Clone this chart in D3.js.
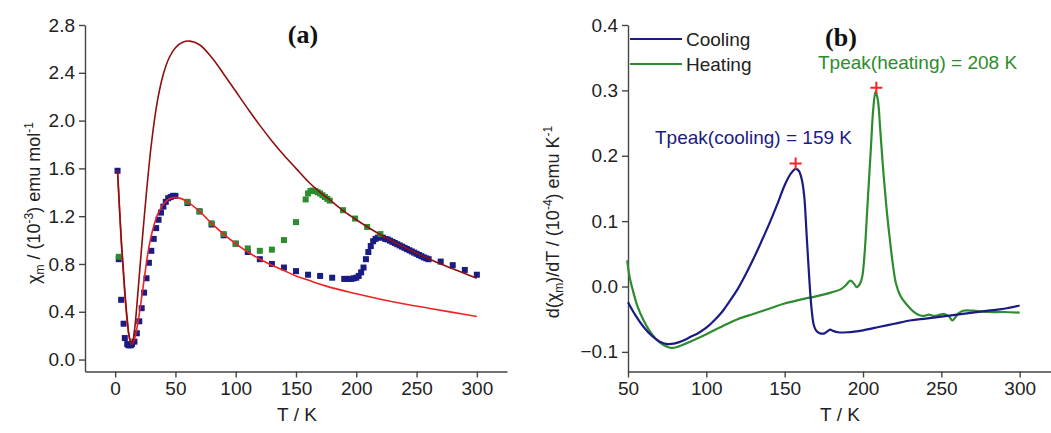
<!DOCTYPE html>
<html>
<head>
<meta charset="utf-8">
<script src="https://cdn.jsdelivr.net/npm/d3@7"></script>
<style>
body { margin: 0; background: #fff; }
text { font-family: "Liberation Sans", Arial, sans-serif; }
</style>
</head>
<body>
<svg id="chart" width="1051" height="433"></svg>
<script>
// ---- panel (a): chi_m vs T ----
// cooling data (blue squares)
var coolT   = [2, 3, 5, 7, 8, 10, 11, 12, 13, 14, 16, 18, 20, 22, 24, 26, 28, 30, 32, 34, 36, 38, 40, 42, 44, 46, 48, 50,
               60, 70, 80, 90, 100, 110, 120, 130, 140, 150, 160, 170, 180, 190, 192, 194, 196, 198, 200, 202, 204, 206,
               208, 210, 212, 214, 216, 218, 220, 222, 224, 226, 228, 230, 232, 234, 236, 238, 240, 242, 244, 246, 248,
               250, 252, 254, 256, 258, 260, 270, 280, 290, 300];
var coolChi = [1.58, 0.84, 0.50, 0.30, 0.18, 0.13, 0.12, 0.12, 0.12, 0.13, 0.15, 0.22, 0.32, 0.43, 0.56, 0.68, 0.81, 0.91, 1.01, 1.10, 1.17, 1.23, 1.28, 1.32, 1.35, 1.36, 1.37, 1.37,
               1.31, 1.24, 1.13, 1.04, 0.97, 0.90, 0.84, 0.80, 0.77, 0.74, 0.71, 0.70, 0.685, 0.675, 0.675, 0.675, 0.675, 0.68, 0.685, 0.70, 0.73, 0.77,
               0.84, 0.90, 0.95, 0.99, 1.01, 1.02, 1.025, 1.02, 1.01, 1.005, 0.995, 0.985, 0.975, 0.965, 0.955, 0.945, 0.935, 0.925, 0.915, 0.905, 0.895,
               0.885, 0.875, 0.865, 0.855, 0.847, 0.84, 0.82, 0.79, 0.75, 0.71];
// heating data (green squares)
var heatT   = [3, 60, 70, 80, 90, 100, 110, 120, 130, 140, 150, 158, 160, 162, 164, 166, 168, 170, 172, 174, 176, 178, 189, 199, 209, 220];
var heatChi = [0.86, 1.32, 1.24, 1.14, 1.05, 0.97, 0.93, 0.91, 0.92, 1.00, 1.15, 1.34, 1.39, 1.41, 1.415, 1.41, 1.40, 1.39, 1.375, 1.36, 1.345, 1.33, 1.25, 1.18, 1.11, 1.05];
// fitted curves
var fitHighT   = [2, 5, 8, 10, 12, 14, 16, 18, 20, 23, 26, 30, 35, 40, 45, 50, 56, 62, 70, 80, 90, 100, 110, 120, 130, 140, 150,
                  160, 170, 180, 190, 200, 210, 220, 230, 240, 250, 260, 270, 280, 290, 300];
var fitHighChi = [1.58, 1.02, 0.58, 0.34, 0.18, 0.13, 0.24, 0.45, 0.70, 1.06, 1.40, 1.80, 2.16, 2.39, 2.53, 2.61, 2.655, 2.665, 2.635, 2.53, 2.39, 2.245, 2.10, 1.96, 1.83, 1.71, 1.60,
                  1.49, 1.40, 1.32, 1.24, 1.17, 1.105, 1.045, 0.99, 0.94, 0.89, 0.845, 0.80, 0.76, 0.72, 0.68];
var fitLowT    = [2, 5, 8, 10, 12, 14, 16, 18, 20, 22, 25, 28, 31, 35, 40, 45, 52, 60, 70, 80, 90, 100, 110, 120, 130, 140,
                  150, 160, 170, 180, 190, 200, 220, 240, 260, 280, 300];
var fitLowChi  = [1.58, 1.00, 0.55, 0.32, 0.17, 0.13, 0.17, 0.26, 0.38, 0.52, 0.74, 0.94, 1.08, 1.21, 1.30, 1.345, 1.355, 1.32, 1.24, 1.14, 1.05, 0.97, 0.90, 0.84, 0.79, 0.745,
                  0.70, 0.665, 0.63, 0.60, 0.575, 0.55, 0.505, 0.465, 0.43, 0.395, 0.36];
var aXTicks = [0, 50, 100, 150, 200, 250, 300];
var aYTicks = [0.0, 0.4, 0.8, 1.2, 1.6, 2.0, 2.4, 2.8];

// ---- panel (b): d(chi_m)/dT vs T ----
var dCoolT = [50, 55, 60, 65, 70, 75, 80, 85, 90, 95, 100, 105, 110, 115, 120, 125, 130, 135, 140, 145, 150, 154, 157, 159, 161,
              162.5, 164, 165.5, 167, 168.5, 170, 172, 175, 177, 179, 181, 184, 190, 200, 210, 220, 230, 240, 250, 260, 270, 280, 290, 300];
var dCoolV = [-0.024, -0.045, -0.062, -0.075, -0.084, -0.088, -0.087, -0.083, -0.077, -0.071, -0.063, -0.052, -0.039, -0.022, -0.004, 0.018, 0.042, 0.068, 0.095, 0.124, 0.155, 0.173, 0.180, 0.177, 0.163,
              0.138, 0.08, 0.02, -0.03, -0.058, -0.067, -0.071, -0.072, -0.069, -0.066, -0.068, -0.070, -0.070, -0.067, -0.062, -0.057, -0.052, -0.049, -0.046, -0.043, -0.040, -0.037, -0.034, -0.029];
var dHeatT = [49.5, 51, 53, 56, 60, 65, 70, 75, 78, 82, 90, 100, 110, 120, 130, 140, 150, 160, 170, 180, 186, 189, 192, 194, 196,
              198, 199.5, 201, 203, 205, 206.5, 208, 209.5, 211, 213, 215, 217, 219, 221, 224, 228, 232, 236, 239, 242, 245, 248,
              252, 255, 257, 259, 261, 264, 270, 280, 290, 300];
var dHeatV = [0.04, 0.015, -0.005, -0.03, -0.052, -0.072, -0.085, -0.092, -0.094, -0.092, -0.084, -0.073, -0.061, -0.050, -0.042, -0.034, -0.026, -0.020, -0.015, -0.009, -0.004, 0.002, 0.009, 0.005, -0.001,
              0.004, 0.015, 0.05, 0.13, 0.21, 0.27, 0.298, 0.285, 0.24, 0.175, 0.12, 0.075, 0.035, 0.005, -0.015, -0.028, -0.038, -0.044, -0.045, -0.043, -0.045, -0.044,
              -0.042, -0.046, -0.052, -0.047, -0.041, -0.037, -0.037, -0.039, -0.039, -0.040];
var peakT = [157, 208.5];
var peakV = [0.188, 0.304];
var bXTicks = [50, 100, 150, 200, 250, 300];
var bYTicks = [-0.1, 0.0, 0.1, 0.2, 0.3, 0.4];

var navy = "#1b1b86", green = "#2d8c2d", red = "#ee2222", darkred = "#8e1010", axisCol = "#444", txtCol = "#222";
var svg = d3.select("#chart");
svg.append("rect").attr("width", 1051).attr("height", 433).attr("fill", "#fff");

function zip(a, b){ return a.map(function(d, i){ return [d, b[i]]; }); }

function drawAxes(x, y, top, bottom, left, xMajor, xMinor, yMajor, yMinor, yFmt){
    var ax = svg.append("g").attr("transform", "translate(0," + bottom + ")");
    ax.call(d3.axisBottom(x).tickValues(xMinor).tickSize(4).tickSizeOuter(0).tickFormat(""));
    ax.call(d3.axisBottom(x).tickValues(xMajor).tickSize(6).tickSizeOuter(0).tickPadding(4).tickFormat(d3.format("d")));
    var ay = svg.append("g").attr("transform", "translate(" + left + ",0)");
    ay.call(d3.axisLeft(y).tickValues(yMinor).tickSize(4).tickSizeOuter(0).tickFormat(""));
    ay.call(d3.axisLeft(y).tickValues(yMajor).tickSize(6).tickSizeOuter(0).tickPadding(4).tickFormat(yFmt));
    [ax, ay].forEach(function(g){
        g.selectAll("path, line").attr("stroke", axisCol).attr("stroke-width", 1.4);
        g.selectAll("text").attr("fill", txtCol).style("font-size", "19px").style("font-family", "Liberation Sans, Arial, sans-serif");
    });
}

// ===== panel (a) =====
var xa = d3.scaleLinear().domain([-25, 325]).range([85, 507]);
var ya = d3.scaleLinear().domain([-0.1, 2.8]).range([371.5, 25]);
drawAxes(xa, ya, 25, 371.5, 85, aXTicks, d3.range(25, 326, 50), aYTicks, d3.range(0.2, 2.7, 0.4), d3.format(".1f"));

var sq = 6;
svg.append("g").selectAll("rect").data(zip(coolT, coolChi)).join("rect")
    .attr("x", function(d){ return xa(d[0]) - sq/2; })
    .attr("y", function(d){ return ya(d[1]) - sq/2; })
    .attr("width", sq).attr("height", sq).attr("fill", navy);
svg.append("g").selectAll("rect").data(zip(heatT, heatChi)).join("rect")
    .attr("x", function(d){ return xa(d[0]) - sq/2; })
    .attr("y", function(d){ return ya(d[1]) - sq/2; })
    .attr("width", sq).attr("height", sq).attr("fill", green);

var lineA = d3.line().x(function(d){ return xa(d[0]); }).y(function(d){ return ya(d[1]); }).curve(d3.curveCatmullRom.alpha(0.5));
svg.append("path").datum(zip(fitLowT, fitLowChi)).attr("d", lineA)
    .attr("fill", "none").attr("stroke", red).attr("stroke-width", 1.6);
svg.append("path").datum(zip(fitHighT, fitHighChi)).attr("d", lineA)
    .attr("fill", "none").attr("stroke", darkred).attr("stroke-width", 1.6);

svg.append("text").attr("x", 303).attr("y", 43).attr("text-anchor", "middle")
    .style("font-family", "Liberation Serif, Times New Roman, serif").style("font-weight", "bold").style("font-size", "26px")
    .attr("fill", "#111").text("(a)");

svg.append("text").attr("x", 297).attr("y", 421).attr("text-anchor", "middle")
    .style("font-size", "19px").attr("fill", txtCol).text("T / K");

var ta = svg.append("text").attr("transform", "translate(40,203) rotate(-90)").attr("text-anchor", "middle")
    .style("font-size", "18px").attr("fill", txtCol);
ta.append("tspan").text("χ");
ta.append("tspan").attr("dy", 4).style("font-size", "12px").text("m");
ta.append("tspan").attr("dy", -4).text(" / (10");
ta.append("tspan").attr("dy", -7).style("font-size", "12px").text("-3");
ta.append("tspan").attr("dy", 7).text(") emu mol");
ta.append("tspan").attr("dy", -7).style("font-size", "12px").text("-1");

// ===== panel (b) =====
var xb = d3.scaleLinear().domain([50, 320]).range([628, 1051]);
var yb = d3.scaleLinear().domain([-0.13, 0.4]).range([371.5, 25]);
drawAxes(xb, yb, 25, 371.5, 628, bXTicks, d3.range(75, 320, 50), bYTicks, d3.range(-0.05, 0.4, 0.1), d3.format(".1f"));

var lineB = d3.line().x(function(d){ return xb(d[0]); }).y(function(d){ return yb(d[1]); }).curve(d3.curveCatmullRom.alpha(0.5));
svg.append("path").datum(zip(dHeatT, dHeatV)).attr("d", lineB)
    .attr("fill", "none").attr("stroke", green).attr("stroke-width", 2.2);
svg.append("path").datum(zip(dCoolT, dCoolV)).attr("d", lineB)
    .attr("fill", "none").attr("stroke", navy).attr("stroke-width", 2.2);

svg.append("g").selectAll("path").data(zip(peakT, peakV)).join("path")
    .attr("d", function(d){ var px = xb(d[0]), py = yb(d[1]);
        return "M" + (px - 6) + "," + py + "H" + (px + 6) + "M" + px + "," + (py - 6) + "V" + (py + 6); })
    .attr("stroke", "#ff2020").attr("stroke-width", 2).attr("fill", "none");

svg.append("text").attr("x", 655).attr("y", 144).style("font-size", "19px").attr("fill", navy).text("Tpeak(cooling) = 159 K");
svg.append("text").attr("x", 818).attr("y", 69).style("font-size", "19px").attr("fill", green).text("Tpeak(heating) = 208 K");

// legend
var legItems = [["Cooling", navy], ["Heating", green]];
legItems.forEach(function(it, i){
    var ly = 39 + i * 25;
    svg.append("line").attr("x1", 630).attr("x2", 682).attr("y1", ly).attr("y2", ly)
        .attr("stroke", it[1]).attr("stroke-width", 2.2);
    svg.append("text").attr("x", 686).attr("y", ly + 7).style("font-size", "19px").attr("fill", txtCol).text(it[0]);
});

svg.append("text").attr("x", 841).attr("y", 46).attr("text-anchor", "middle")
    .style("font-family", "Liberation Serif, Times New Roman, serif").style("font-weight", "bold").style("font-size", "26px")
    .attr("fill", "#111").text("(b)");

svg.append("text").attr("x", 840).attr("y", 421).attr("text-anchor", "middle")
    .style("font-size", "19px").attr("fill", txtCol).text("T / K");

var tb = svg.append("text").attr("transform", "translate(559,222) rotate(-90)").attr("text-anchor", "middle")
    .style("font-size", "18px").attr("fill", txtCol);
tb.append("tspan").text("d(χ");
tb.append("tspan").attr("dy", 4).style("font-size", "12px").text("m");
tb.append("tspan").attr("dy", -4).text(")/dT / (10");
tb.append("tspan").attr("dy", -7).style("font-size", "12px").text("-4");
tb.append("tspan").attr("dy", 7).text(") emu K");
tb.append("tspan").attr("dy", -7).style("font-size", "12px").text("-1");
</script>
</body>
</html>
